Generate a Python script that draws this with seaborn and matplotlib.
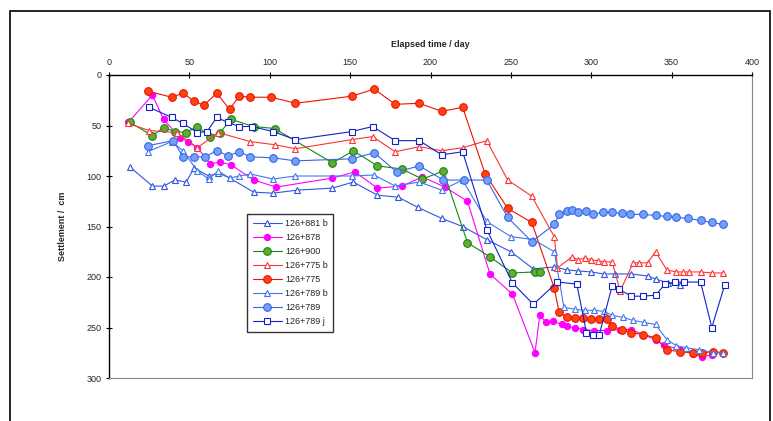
import matplotlib
matplotlib.use("Agg")
import matplotlib.pyplot as plt
import seaborn as sns
from matplotlib.patches import Rectangle

# Settlement readings (elapsed day, settlement cm)
days_881b = [13, 27, 34, 41, 48, 53, 62, 68, 75, 90, 102, 117, 139, 152, 167, 180, 192, 207, 220,
             235, 250, 264, 277, 285, 292, 300, 308, 315, 325, 335, 340, 348, 355]
sett_881b = [91, 110, 110, 104, 106, 92, 100, 97, 102, 116, 117, 114, 112, 106, 119, 121, 131, 142, 150,
             163, 175, 192, 190, 193, 194, 195, 197, 197, 197, 199, 202, 206, 208]

days_878 = [12, 27, 34, 44, 49, 55, 63, 69, 76, 90, 104, 139, 153, 167, 182, 195, 209, 223, 237, 251,
            265, 268, 272, 276, 282, 285, 290, 295, 302, 310, 318, 325, 332, 340, 345, 355, 363, 369, 375]
sett_878 = [47, 20, 44, 62, 66, 72, 88, 86, 89, 104, 111, 102, 96, 112, 110, 101, 111, 125, 197, 217,
            275, 238, 245, 244, 247, 249, 250, 252, 253, 253, 252, 252, 257, 262, 267, 272, 276, 279, 277]

days_900 = [13, 27, 34, 41, 48, 55, 63, 69, 76, 90, 103, 139, 152, 167, 182, 195, 208, 223, 237, 251, 265, 268]
sett_900 = [47, 60, 52, 56, 57, 51, 61, 57, 44, 51, 53, 87, 75, 90, 93, 103, 95, 166, 180, 196, 195, 195]

days_775b = [12, 25, 42, 55, 68, 88, 103, 116, 151, 164, 178, 193, 207, 220, 235, 248, 263, 277, 279,
             288, 292, 296, 300, 304, 308, 313, 318, 326, 330, 335, 340, 347, 353, 357, 361, 368, 375, 382]
sett_775b = [48, 55, 57, 72, 57, 66, 69, 73, 64, 61, 76, 71, 75, 72, 65, 104, 120, 160, 191,
             180, 183, 181, 183, 184, 185, 185, 214, 186, 186, 186, 175, 193, 195, 195, 195, 195, 196, 196]

days_775 = [24, 39, 46, 53, 59, 67, 75, 81, 88, 101, 116, 151, 165, 178, 193, 207, 220, 234, 248, 263,
            277, 280, 285, 290, 295, 300, 305, 310, 313, 319, 325, 332, 340, 347, 355, 363, 369, 376, 382]
sett_775 = [16, 22, 18, 26, 30, 18, 34, 21, 22, 22, 28, 21, 14, 29, 28, 36, 32, 98, 132, 146,
            211, 235, 240, 241, 241, 242, 242, 242, 249, 252, 255, 257, 260, 272, 274, 275, 275, 274, 275]

days_789b = [24, 39, 46, 55, 62, 68, 75, 81, 88, 102, 116, 151, 165, 178, 193, 207, 220, 235, 250, 264,
             277, 283, 290, 296, 302, 308, 313, 320, 326, 333, 340, 347, 353, 359, 367, 376, 382]
sett_789b = [76, 66, 75, 95, 103, 95, 102, 100, 98, 103, 100, 100, 99, 110, 106, 114, 104, 145, 160, 163,
             175, 230, 232, 233, 233, 234, 238, 240, 243, 245, 247, 262, 268, 270, 272, 275, 275]

days_789 = [24, 40, 46, 53, 60, 67, 74, 81, 88, 102, 116, 151, 165, 179, 193, 208, 221, 235, 248, 263,
            277, 280, 285, 288, 292, 297, 301, 307, 313, 319, 324, 332, 340, 347, 353, 360, 368, 375, 382]
sett_789 = [70, 65, 81, 81, 81, 75, 80, 76, 81, 82, 85, 83, 77, 96, 90, 104, 104, 104, 141, 165,
            148, 138, 135, 134, 136, 135, 138, 136, 136, 137, 138, 138, 139, 140, 141, 142, 144, 146, 148]

days_789j = [25, 39, 46, 55, 61, 67, 74, 81, 89, 102, 116, 151, 164, 178, 193, 207, 220, 235, 251, 264,
             279, 291, 297, 301, 305, 313, 317, 325, 332, 340, 346, 352, 358, 368, 375, 383]
sett_789j = [32, 42, 48, 57, 56, 42, 47, 51, 51, 56, 64, 56, 51, 65, 65, 79, 76, 153, 206, 227,
             205, 207, 255, 257, 257, 209, 212, 219, 219, 218, 207, 205, 205, 205, 250, 208]

series = [
    ("126+881 b", days_881b, sett_881b, "^", "#3355DD", "white"),
    ("126+878", days_878, sett_878, "o", "#FF00FF", "#FF00FF"),
    ("126+900", days_900, sett_900, "o", "#118811", "#66AA33"),
    ("126+775 b", days_775b, sett_775b, "^", "#FF3333", "white"),
    ("126+775", days_775, sett_775, "o", "#EE1100", "#FF4411"),
    ("126+789 b", days_789b, sett_789b, "^", "#4477EE", "white"),
    ("126+789", days_789, sett_789, "o", "#3366EE", "#77A0F5"),
    ("126+789 j", days_789j, sett_789j, "s", "#1122CC", "white"),
]
marker_sizes = {"126+878": 4.5}

sns.set_style("white")
plt.rcParams["font.family"] = ["Liberation Sans Narrow", "Liberation Sans", "DejaVu Sans"]

fig = plt.figure(figsize=(7.73, 4.21), dpi=100)
ax = fig.add_axes([109 / 773, 1 - 378 / 421, 643 / 773, 303 / 421])

for name, x, y, mk, col, face in series:
    ms = marker_sizes.get(name, 5.5 if mk == "o" else 5)
    sns.lineplot(x=x, y=y, ax=ax, sort=False, estimator=None, color=col, lw=0.8,
                 marker=mk, markersize=ms, markerfacecolor=face, markeredgecolor=col,
                 markeredgewidth=0.8, label=name)

ax.set_xlim(0, 400)
ax.set_ylim(300, 0)
ax.set_xticks(range(0, 401, 50))
ax.set_yticks(range(0, 301, 50))
ax.xaxis.tick_top()
ax.xaxis.set_label_position("top")
ax.set_xlabel("Elapsed time / day", fontsize=6.5, fontweight="bold", labelpad=8)
ax.set_ylabel("Settlement /  cm", fontsize=6.5, fontweight="bold", labelpad=14)
ax.tick_params(axis="both", labelsize=6.5, direction="inout", length=5, width=0.8, color="black")
ax.tick_params(axis="x", top=True, bottom=False, pad=3)
ax.tick_params(axis="y", left=True, pad=3)

for side in ["top", "left"]:
    ax.spines[side].set_color("black")
    ax.spines[side].set_linewidth(1.0)
for side in ["right", "bottom"]:
    ax.spines[side].set_color("#888888")
    ax.spines[side].set_linewidth(0.8)

leg = ax.legend(loc="upper left", bbox_to_anchor=(0.215, 0.541), borderaxespad=0,
                fontsize=6.5, frameon=True, fancybox=False, handlelength=3.2,
                labelspacing=0.55, borderpad=0.6, handletextpad=0.4)
leg.get_frame().set_edgecolor("black")
leg.get_frame().set_linewidth(1.0)

# outer chart border
fig.patches.append(Rectangle((10 / 773, -0.2), 760 / 773, 1.2 - 11 / 421,
                             transform=fig.transFigure, fill=False, edgecolor="black", lw=1.2))

fig.savefig("out.png", dpi=100)
